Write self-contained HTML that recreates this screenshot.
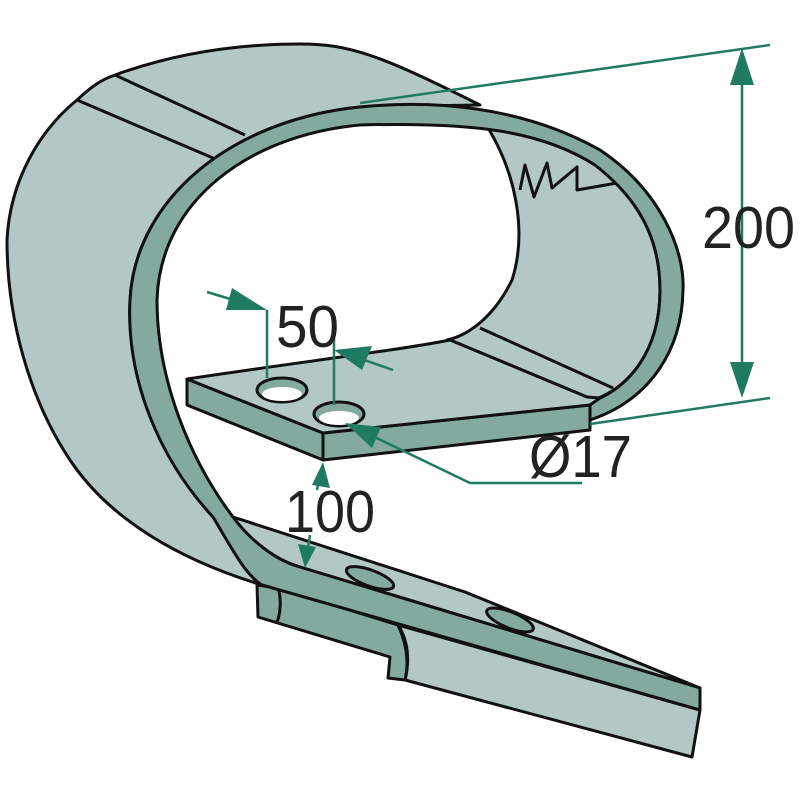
<!DOCTYPE html>
<html><head><style>body{margin:0;background:#fff}svg{display:block}</style></head>
<body>
<svg width="800" height="800" viewBox="0 0 800 800" xmlns="http://www.w3.org/2000/svg">
<g stroke="#111" stroke-width="3" stroke-linejoin="round">
<!-- outer back surface -->
<path fill="#b3c8c4" d="M77,100 C90,88 100,80 115,75 C170,55 230,44 300,44 C350,44 380,55 480,105 L360,107 C230,120 135,200 130,300 C125,380 170,460 240,540 L262,585 C180,560 110,520 70,460 C30,400 7,320 7,240 C10,180 40,130 77,100Z"/>
<path fill="none" d="M77,100 L213,158 M115,75 L245,135"/>
<!-- interior -->
<path fill="#b3c8c4" d="M485,123 C515,170 528,230 512,280 C495,315 470,335 447,340 L587,402 C630,390 660,350 660,290 C660,240 640,200 595,165 C560,140 520,128 485,123Z"/>
<path fill="none" d="M450,340 L587,397 M480,328 L613,388"/>
<polyline fill="none" points="520,190 525,165 534,197 547,163 552,188 577,167 577,190 617,183"/>
<!-- flange light top face -->
<path fill="#b3c8c4" d="M233,517 L465,592 L534,620 L700,688 L300,567 C270,558 250,540 233,517Z"/>
<!-- flange lower faces -->
<path fill="#b3c8c4" d="M398,625 L700,710 L692,757 L405,680 C410,660 405,640 398,625Z"/>
<path fill="#84aaa0" d="M257,585 L258,617 L390,657 L388,678 L405,680 C410,660 405,640 398,625 L278,588Z"/>
<path fill="none" d="M278,588 C282,600 280,615 277,622 M398,625 C408,640 410,660 405,680"/>
<!-- band + strip -->
<path fill="#84aaa0" d="M590,420 C650,400 682,350 683,290 C685,250 660,190 600,150 C520,105 430,100 360,107 C230,120 135,200 130,300 C126,380 160,460 213,517 C230,545 245,575 262,585 L700,710 L700,688 L300,567 C275,560 250,540 233,517 C190,460 157,380 157,300 C160,200 250,135 360,125 C470,122 540,130 595,165 C640,200 660,240 660,290 C660,350 630,390 585,404Z"/>
<ellipse cx="370" cy="578" rx="25" ry="8" transform="rotate(20 370 578)" fill="#84aaa0"/>
<ellipse cx="510" cy="620" rx="25" ry="8" transform="rotate(22 510 620)" fill="#84aaa0"/>
<!-- plate -->
<path fill="#84aaa0" d="M187,379 L187,405 L323,460 L590,430 L590,405 L323,433Z"/>
<path fill="#b3c8c4" d="M187,379 L323,433 L590,405 L600,398 L587,397 L450,340 C400,350 300,362 187,379Z"/>
<path fill="none" d="M323,433 L323,460"/>
<ellipse cx="282" cy="390" rx="25" ry="12" fill="#84aaa0"/>
<ellipse cx="282" cy="394" rx="20" ry="7" fill="#fff" stroke="none"/>
<ellipse cx="339" cy="414" rx="25" ry="12" fill="#84aaa0"/>
<ellipse cx="339" cy="418" rx="20" ry="7" fill="#fff" stroke="none"/>
</g>
<!-- dimensions -->
<g stroke="#1f7a62" stroke-width="2.5" fill="none">
<path d="M360,103 L770,45 M590,424 L770,398 M742,60 L742,385"/>
<path d="M267,310 L267,378 M334,330 L334,405 M207,292 L250,305 M393,370 L350,355"/>
<path d="M360,430 L470,483 L582,483"/>
<path d="M317,490 L321,470 M310,535 L307,555"/>
</g>
<g fill="#1f7a62">
<polygon points="742,48 730,85 754,85"/>
<polygon points="742,398 730,362 754,362"/>
<polygon points="267,310 232,288 226,310"/>
<polygon points="334,350 372,346 362,370"/>
<polygon points="345,423 381,427 372,448"/>
<polygon points="323,462 312,485 330,488"/>
<polygon points="305,568 298,544 316,547"/>
</g>
<g font-family="Liberation Sans, sans-serif" fill="#222" font-size="59">
<text x="702" y="248" textLength="93" lengthAdjust="spacingAndGlyphs">200</text>
<text x="276" y="347" textLength="63" lengthAdjust="spacingAndGlyphs">50</text>
<text x="529" y="477" textLength="103" lengthAdjust="spacingAndGlyphs">Ø17</text>
<text x="285" y="532" textLength="90" lengthAdjust="spacingAndGlyphs">100</text>
</g>
</svg>
</body></html>
